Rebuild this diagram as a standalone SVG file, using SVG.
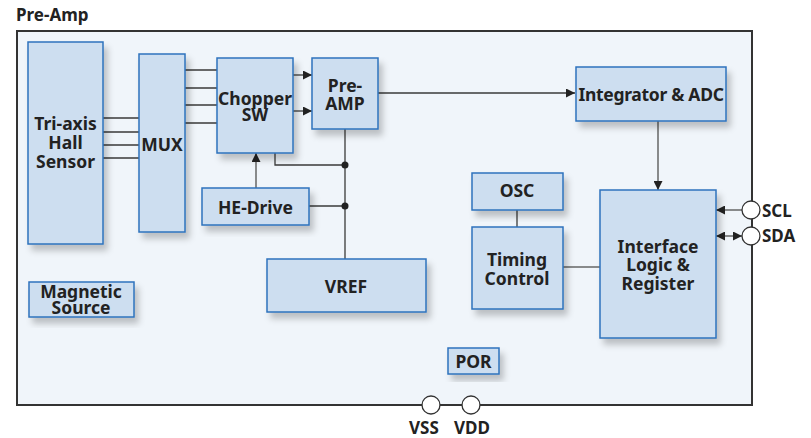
<svg xmlns="http://www.w3.org/2000/svg" width="811" height="438" viewBox="0 0 811 438">
<style>
.box{fill:#cddef0;stroke:#2f73bd;stroke-width:1.5;filter:url(#sh)}
.t{font-family:"Noto Sans","Open Sans",sans-serif;font-weight:bold;font-size:17.5px;fill:#222;text-anchor:middle}
.lbl{font-family:"Noto Sans","Open Sans",sans-serif;font-weight:bold;font-size:17px;fill:#222}
.w{fill:none;stroke:#3a3a3a;stroke-width:1.3}
.g{fill:none;stroke:#666;stroke-width:1.5}
.pin{fill:#fff;stroke:#333;stroke-width:1.3}
</style>
<defs>
<filter id="sh" x="-20%" y="-20%" width="150%" height="150%">
<feDropShadow dx="4" dy="6" stdDeviation="3" flood-color="#000" flood-opacity="0.22"/>
</filter>
<marker id="ar" viewBox="0 0 10 10" refX="10" refY="5" markerWidth="9" markerHeight="9" markerUnits="userSpaceOnUse" orient="auto-start-reverse">
<path d="M0,0 L10,5 L0,10 z" fill="#222"/>
</marker>
</defs>
<rect width="811" height="438" fill="#fff"/>
<text class="lbl" x="16" y="21" font-size="16">Pre-Amp</text>
<rect id="frame" x="17" y="31" width="735" height="374" fill="#f0f5fa" stroke="#333" stroke-width="2"/>

<g id="connectors">
<path class="w" d="M103 118H139M103 132H139M103 145H139M103 158H139"/>
<path class="w" d="M185 70H217M185 88H217M185 105H217M185 123H217"/>
<path class="w" d="M293 75H312" marker-end="url(#ar)"/>
<path class="w" d="M293 111H312" marker-end="url(#ar)"/>
<path class="w" d="M378 93H575" marker-end="url(#ar)"/>
<path class="w" d="M345 129V259"/>
<path class="w" d="M275 153V165H345"/>
<path class="g" d="M256 188V153" marker-end="url(#ar)"/>
<path class="w" d="M309 206H345"/>
<circle cx="345" cy="165" r="3.5" fill="#222"/>
<circle cx="345" cy="206" r="3.5" fill="#222"/>
<path class="g" d="M658 121V190" marker-end="url(#ar)"/>
<path class="w" d="M517 210V227"/>
<path class="g" d="M563 267H600"/>
<path class="g" d="M742 210H716" marker-end="url(#ar)"/>
<path class="g" d="M742 236H716" marker-start="url(#ar)" marker-end="url(#ar)"/>
</g>

<g id="tri-axis"><rect class="box" x="28" y="42" width="75" height="202"/>
<text class="t" x="65.5" y="130">Tri-axis</text><text class="t" x="65.5" y="149">Hall</text><text class="t" x="65.5" y="168">Sensor</text></g>
<g id="mux"><rect class="box" x="139" y="54" width="46" height="178"/>
<text class="t" x="162" y="151">MUX</text></g>
<g id="chopper"><rect class="box" x="217" y="58" width="76" height="95"/>
<text class="t" x="255" y="105" font-size="16.5">Chopper</text><text class="t" x="255" y="121">SW</text></g>
<g id="preamp"><rect class="box" x="312" y="58" width="66" height="71"/>
<text class="t" x="345" y="92">Pre-</text><text class="t" x="345" y="110">AMP</text></g>
<g id="he-drive"><rect class="box" x="202" y="188" width="107" height="37"/>
<text class="t" x="255.5" y="214">HE-Drive</text></g>
<g id="vref"><rect class="box" x="267" y="259" width="159" height="53"/>
<text class="t" x="346" y="293" font-size="19">VREF</text></g>
<g id="magnetic"><rect class="box" x="29" y="282" width="105" height="35"/>
<text class="t" x="81" y="298" font-size="14">Magnetic</text><text class="t" x="81" y="314" font-size="14">Source</text></g>
<g id="integrator"><rect class="box" x="576" y="67" width="150" height="54"/>
<text class="t" x="651" y="101" letter-spacing="-0.3">Integrator &amp; ADC</text></g>
<g id="osc"><rect class="box" x="472" y="173" width="91" height="37"/>
<text class="t" x="517" y="197">OSC</text></g>
<g id="timing"><rect class="box" x="472" y="227" width="91" height="82"/>
<text class="t" x="517" y="266">Timing</text><text class="t" x="517" y="285">Control</text></g>
<g id="interface"><rect class="box" x="600" y="190" width="116" height="148"/>
<text class="t" x="658" y="253">Interface</text><text class="t" x="658" y="271">Logic &amp;</text><text class="t" x="658" y="290">Register</text></g>
<g id="por"><rect class="box" x="448" y="348" width="51" height="26"/>
<text class="t" x="473.5" y="368">POR</text></g>

<g id="pins">
<circle class="pin" cx="751" cy="210" r="9"/>
<circle class="pin" cx="751" cy="236" r="9"/>
<circle class="pin" cx="431" cy="405" r="9"/>
<circle class="pin" cx="471" cy="405" r="9"/>
<text class="lbl" x="762" y="217">SCL</text>
<text class="lbl" x="762" y="242">SDA</text>
<text class="lbl" x="409" y="434">VSS</text>
<text class="lbl" x="454" y="434">VDD</text>
</g>
</svg>
